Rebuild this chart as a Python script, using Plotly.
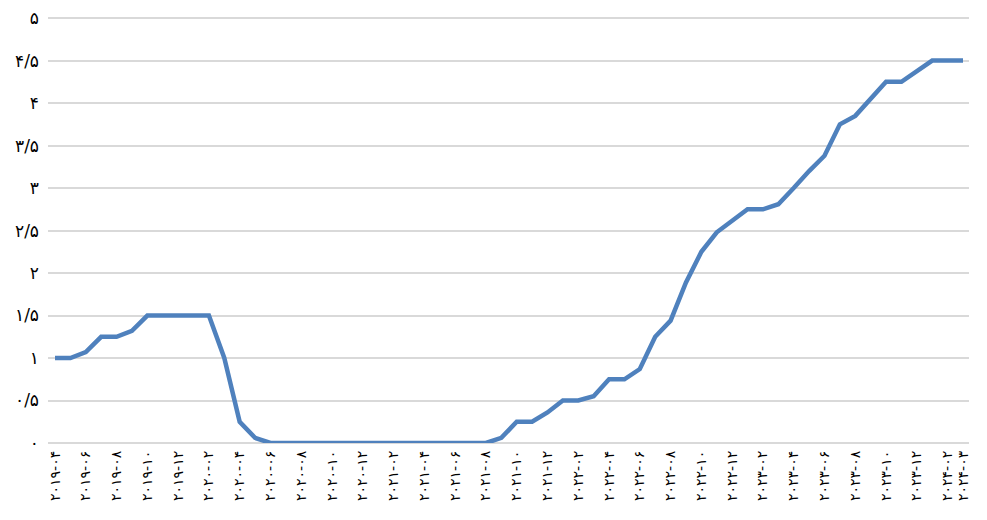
import plotly.graph_objects as go

# monthly periods 2019-04 .. 2024-03
months = [
    "2019-04", "2019-05", "2019-06", "2019-07", "2019-08", "2019-09", "2019-10", "2019-11", "2019-12",
    "2020-01", "2020-02", "2020-03", "2020-04", "2020-05", "2020-06", "2020-07", "2020-08", "2020-09",
    "2020-10", "2020-11", "2020-12", "2021-01", "2021-02", "2021-03", "2021-04", "2021-05", "2021-06",
    "2021-07", "2021-08", "2021-09", "2021-10", "2021-11", "2021-12", "2022-01", "2022-02", "2022-03",
    "2022-04", "2022-05", "2022-06", "2022-07", "2022-08", "2022-09", "2022-10", "2022-11", "2022-12",
    "2023-01", "2023-02", "2023-03", "2023-04", "2023-05", "2023-06", "2023-07", "2023-08", "2023-09",
    "2023-10", "2023-11", "2023-12", "2024-01", "2024-02", "2024-03",
]
values = [
    1.0, 1.0, 1.07, 1.25, 1.25, 1.32, 1.5, 1.5, 1.5,
    1.5, 1.5, 1.0, 0.25, 0.06, 0.0, 0.0, 0.0, 0.0,
    0.0, 0.0, 0.0, 0.0, 0.0, 0.0, 0.0, 0.0, 0.0,
    0.0, 0.0, 0.06, 0.25, 0.25, 0.36, 0.5, 0.5, 0.55,
    0.75, 0.75, 0.87, 1.25, 1.44, 1.89, 2.25, 2.48, 2.62,
    2.75, 2.75, 2.81, 3.0, 3.2, 3.38, 3.75, 3.85, 4.06,
    4.25, 4.25, 4.37, 4.5, 4.5, 4.5,
]
x_tick_months = [
    "2019-04", "2019-06", "2019-08", "2019-10", "2019-12", "2020-02", "2020-04", "2020-06",
    "2020-08", "2020-10", "2020-12", "2021-02", "2021-04", "2021-06", "2021-08", "2021-10",
    "2021-12", "2022-02", "2022-04", "2022-06", "2022-08", "2022-10", "2022-12", "2023-02",
    "2023-04", "2023-06", "2023-08", "2023-10", "2023-12", "2024-02", "2024-03",
]
y_tick_values = [0, 0.5, 1, 1.5, 2, 2.5, 3, 3.5, 4, 4.5, 5]
y_tick_labels = ["۰", "۰/۵", "۱", "۱/۵", "۲", "۲/۵", "۳", "۳/۵", "۴", "۴/۵", "۵"]

fa = str.maketrans("0123456789", "۰۱۲۳۴۵۶۷۸۹")
x_tick_labels = [m.translate(fa) for m in x_tick_months]

fig = go.Figure()
fig.add_trace(go.Scatter(
    x=months, y=values, mode="lines",
    line=dict(color="#4F81BD", width=4.5),
    hoverinfo="skip",
))

# page body has an 8px default margin; figure sized so it fits the 987x520 window
fig.update_layout(
    width=971, height=504,
    margin=dict(l=40, r=10, t=8, b=69),
    paper_bgcolor="white", plot_bgcolor="white",
    showlegend=False,
    font=dict(family="DejaVu Sans", color="black"),
)
fig.update_xaxes(
    type="category", categoryorder="array", categoryarray=months,
    range=[-0.455, 59.39],
    tickmode="array", tickvals=x_tick_months, ticktext=x_tick_labels,
    tickangle=-90, tickfont=dict(size=14),
    showgrid=False, zeroline=False, showline=False, ticks="",
    ticklabelstandoff=4, automargin=False, ticklabeloverflow="allow",
)
fig.update_yaxes(
    range=[0, 5.025], tickmode="array", tickvals=y_tick_values, ticktext=y_tick_labels,
    tickfont=dict(size=17),
    showgrid=True, gridcolor="#D9D9D9", gridwidth=2,
    zeroline=True, zerolinecolor="#D9D9D9", zerolinewidth=2,
    showline=False, ticks="", ticklabelstandoff=8, automargin=False,
    ticklabeloverflow="allow",
)

fig.write_html("out.html")
